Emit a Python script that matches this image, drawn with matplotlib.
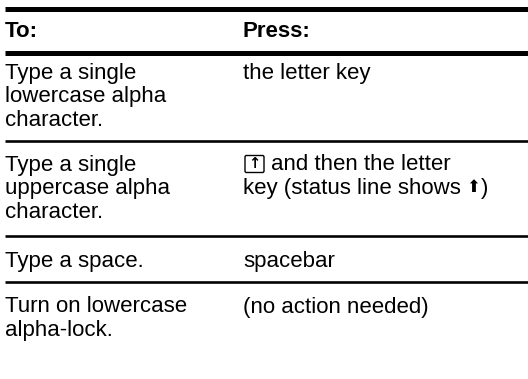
import matplotlib
matplotlib.use("Agg")
import matplotlib.pyplot as plt
from matplotlib.patches import FancyBboxPatch

# ---- table content ----
header_to = "To:"
header_press = "Press:"
col_to = [
    ["Type a single", "lowercase alpha", "character."],
    ["Type a single", "uppercase alpha", "character."],
    ["Type a space."],
    ["Turn on lowercase", "alpha-lock."],
]
col_press = [
    ["the letter key"],
    ["{KEY} and then the letter", "key (status line shows {SHIFT})"],
    ["spacebar"],
    ["(no action needed)"],
]
key_glyph = "\u2191"
shift_glyph = "\u2b06"

# ---- layout (pixels) ----
W, H = 528, 379
DPI = 100
FS = 16.0
FAM = ["Liberation Sans", "DejaVu Sans"]
x_left = 5
x_press = 243
line_gap = 23.5
top_rule = 8.5
header_base = 37
head_rule = 53
row_rules = [141, 236, 282]
first_base = [78.5, 170.5, 266.5, 312.5]

fig = plt.figure(figsize=(W / DPI, H / DPI), dpi=DPI)
ax = fig.add_axes([0, 0, 1, 1])
ax.set_xlim(0, W)
ax.set_ylim(H, 0)
ax.axis("off")

thick = 5 * 72 / DPI
thin = 2.6 * 72 / DPI
ax.hlines([top_rule, head_rule], x_left, W, colors="black", linewidth=thick)
ax.hlines(row_rules, x_left, W, colors="black", linewidth=thin)

ax.text(x_left, header_base, header_to, fontsize=FS, fontweight="bold", family=FAM, va="baseline")
ax.text(x_press, header_base, header_press, fontsize=FS, fontweight="bold", family=FAM, va="baseline")

fig.canvas.draw()
renderer = fig.canvas.get_renderer()
inv = ax.transData.inverted()


def right_edge(t):
    bb = t.get_window_extent(renderer)
    return inv.transform((bb.x1, bb.y0))[0]


for r, lines in enumerate(col_to):
    for k, s in enumerate(lines):
        ax.text(x_left, first_base[r] + k * line_gap, s, fontsize=FS, family=FAM, va="baseline")

for r, lines in enumerate(col_press):
    for k, s in enumerate(lines):
        y = first_base[r] + k * line_gap
        x = x_press
        if s.startswith("{KEY}"):
            bw, bh = 19, 17
            box = FancyBboxPatch((x + 2, y - bh + 2), bw, bh,
                                 boxstyle="round,pad=0,rounding_size=1.5",
                                 fill=False, edgecolor="black", linewidth=1.0)
            ax.add_patch(box)
            ax.text(x + 2 + bw / 2, y - bh / 2 + 2, key_glyph, fontsize=10.5, fontweight="bold",
                    family=["DejaVu Sans"], ha="center", va="center")
            ax.text(x + 2 + bw + 7, y, s.replace("{KEY}", "").strip(), fontsize=FS, family=FAM,
                    va="baseline")
        elif "{SHIFT}" in s:
            pre, post = s.split("{SHIFT}")
            t = ax.text(x, y, pre.rstrip(), fontsize=FS, family=FAM, va="baseline")
            fig.canvas.draw()
            xr = right_edge(t)
            t2 = ax.text(xr + 5, y - 2, shift_glyph, fontsize=12, family=["DejaVu Sans"],
                         va="baseline")
            fig.canvas.draw()
            xr2 = right_edge(t2)
            ax.text(xr2 + 1.5, y, post, fontsize=FS, family=FAM, va="baseline")
        else:
            ax.text(x, y, s, fontsize=FS, family=FAM, va="baseline")

fig.savefig("out.png", dpi=DPI, facecolor="white")
